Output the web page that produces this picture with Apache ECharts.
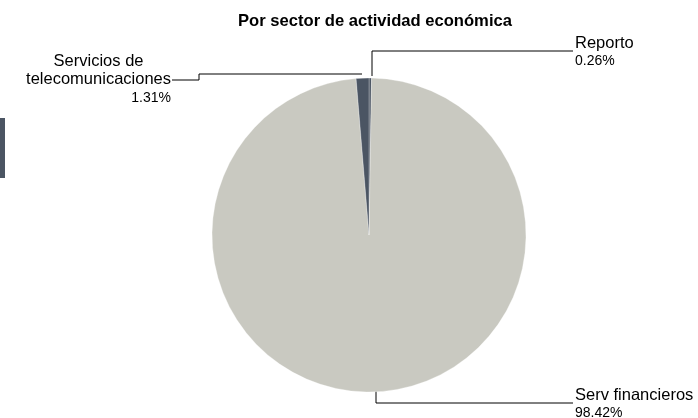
<!DOCTYPE html>
<html>
<head>
<meta charset="utf-8">
<script src="https://cdn.jsdelivr.net/npm/echarts@6/dist/echarts.min.js"></script>
<style>
html,body{margin:0;padding:0;background:#fff;}
#chart{width:698px;height:418px;}
</style>
</head>
<body>
<div id="chart"></div>
<script>
// Data
const titleText = 'Por sector de actividad económica';
const categories = ['Reporto', 'Serv financieros', 'Servicios de\ntelecomunicaciones'];
const values = [0.26, 98.42, 1.31];
const colors = ['#4b5563', '#c9c9c1', '#4b5563'];

const FONT = 'Arial, "Liberation Sans", sans-serif';

// label placement (styling only)
const labelPlacement = [
  { x: 575, y: 34, align: 'left', line: [[372, 76], [372, 51], [573, 51]] },
  { x: 575, y: 386, align: 'left', line: [[376, 390], [376, 403], [573, 403]] },
  { x: 171, y: 52, align: 'right', line: [[362, 74], [199, 74], [199, 80], [172, 80]] }
];

const chart = echarts.init(document.getElementById('chart'));
chart.setOption({
  animation: false,
  backgroundColor: '#fff',
  title: {
    text: titleText,
    left: 370,
    textAlign: 'center',
    top: 8,
    textStyle: { fontFamily: FONT, fontSize: 16.6, fontWeight: 'bold', color: '#000' }
  },
  graphic: [{
    type: 'rect',
    left: 0, top: 118,
    shape: { width: 5, height: 60 },
    style: { fill: '#4b5563' }
  }],
  series: [{
    type: 'pie',
    center: [369, 235],
    radius: 157,
    startAngle: 90,
    clockwise: true,
    data: categories.map((c, i) => ({ name: c, value: values[i], itemStyle: { color: colors[i] } })),
    itemStyle: { borderColor: '#fff', borderWidth: 0.3 },
    label: {
      show: true,
      position: 'outer',
      formatter: p => '{n|' + p.name.split('\n').join('}\n{n|') + '}\n{p|' + p.value.toFixed(2) + '%}',
      rich: {
        n: { fontFamily: FONT, fontSize: 16.5, lineHeight: 18.5, color: '#000', align: 'center' },
        p: { fontFamily: FONT, fontSize: 14, lineHeight: 18, color: '#000' }
      }
    },
    labelLine: { show: true, lineStyle: { color: '#000', width: 1 } },
    labelLayout: function (params) {
      const lp = labelPlacement[params.dataIndex];
      return {
        x: lp.x, y: lp.y, align: lp.align, verticalAlign: 'top',
        labelLinePoints: lp.line
      };
    },
    emphasis: { disabled: true }
  }]
});
</script>
</body>
</html>
